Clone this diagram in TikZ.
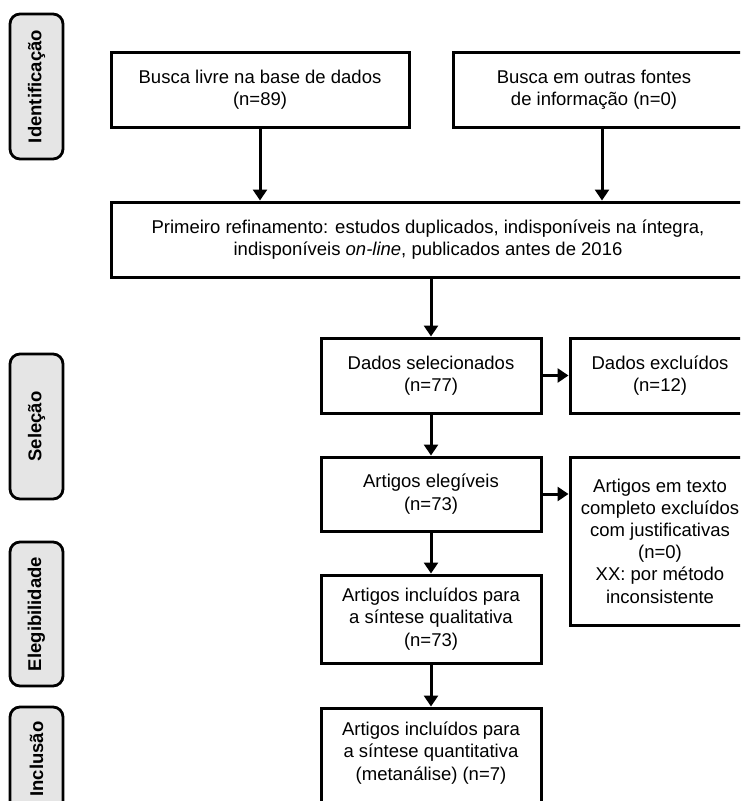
\documentclass[tikz,border=0pt]{standalone}
\usepackage{fontspec}
\setmainfont{Liberation Sans}
\usetikzlibrary{arrows.meta}
\begin{document}
\begin{tikzpicture}[x=1pt,y=-1pt,
  every node/.style={font=\fontsize{18.5}{22.2}\selectfont, align=center, inner sep=0pt},
  box/.style={draw, line width=3pt, rectangle},
  phase/.style={draw, line width=2.8pt, rounded corners=10pt, fill=black!10, rotate=90,
    minimum height=53pt, font=\bfseries\fontsize{18.5}{22.2}\selectfont},
  arr/.style={line width=3pt, -{Triangle[length=11pt 0 0,width=14pt 0 0]}}]
\useasboundingbox (0,0) rectangle (740,801);
\clip (0,0) rectangle (740,801);
% phase labels
\node[phase, minimum width=145pt] (pid) at (36.5,86.5) {Identificação};
\node[phase, minimum width=145pt] (psel) at (36.5,426.5) {Seleção};
\node[phase, minimum width=144pt] (peleg) at (36.5,614) {Elegibilidade};
\node[phase, minimum width=104pt] (pincl) at (36.5,759) {Inclusão};
% boxes
\node[box, minimum width=298pt, minimum height=75pt] (b1) at (260,89.5) {Busca livre na base de dados\\(n=89)};
\node[box, minimum width=292pt, minimum height=75pt] (b2) at (599,89.5) {};
\node (b2t) at (594,89.5) {Busca em outras fontes\\de informação (n=0)};
\node[box, minimum width=634pt, minimum height=75pt] (ref) at (428,239.5) {Primeiro refinamento: estudos duplicados, indisponíveis na íntegra,\\indisponíveis \textit{on-line}, publicados antes de 2016};
\node[box, minimum width=220pt, minimum height=75pt] (sel) at (431,375.5) {Dados selecionados\\(n=77)};
\node[box, minimum width=180pt, minimum height=75pt] (exc) at (660,375.5) {Dados excluídos\\(n=12)};
\node[box, minimum width=220pt, minimum height=74pt] (eleg) at (431,494) {Artigos elegíveis\\(n=73)};
\node[box, minimum width=180pt, minimum height=168pt] (txt) at (660,541) {Artigos em texto\\completo excluídos\\com justificativas\\(n=0)\\XX: por método\\inconsistente};
\node[box, minimum width=220pt, minimum height=88pt] (qual) at (431,619) {Artigos incluídos para\\a síntese qualitativa\\(n=73)};
\node[box, minimum width=220pt, minimum height=130pt] (quant) at (431,773) {};
\node (quantt) at (431,753) {Artigos incluídos para\\a síntese quantitativa\\(metanálise) (n=7)};
% connectors
\draw[arr] (b1.south) -- (b1.south |- ref.north);
\draw[arr] ([xshift=3pt]b2.south) -- ([xshift=3pt]b2.south |- ref.north);
\draw[arr] (sel.north |- ref.south) -- (sel.north);
\draw[arr] (sel.east) -- (exc.west);
\draw[arr] (sel.south) -- (eleg.north);
\draw[arr] (eleg.east) -- (eleg.east -| txt.west);
\draw[arr] (eleg.south) -- (qual.north);
\draw[arr] (qual.south) -- (quant.north);
\end{tikzpicture}
\end{document}
